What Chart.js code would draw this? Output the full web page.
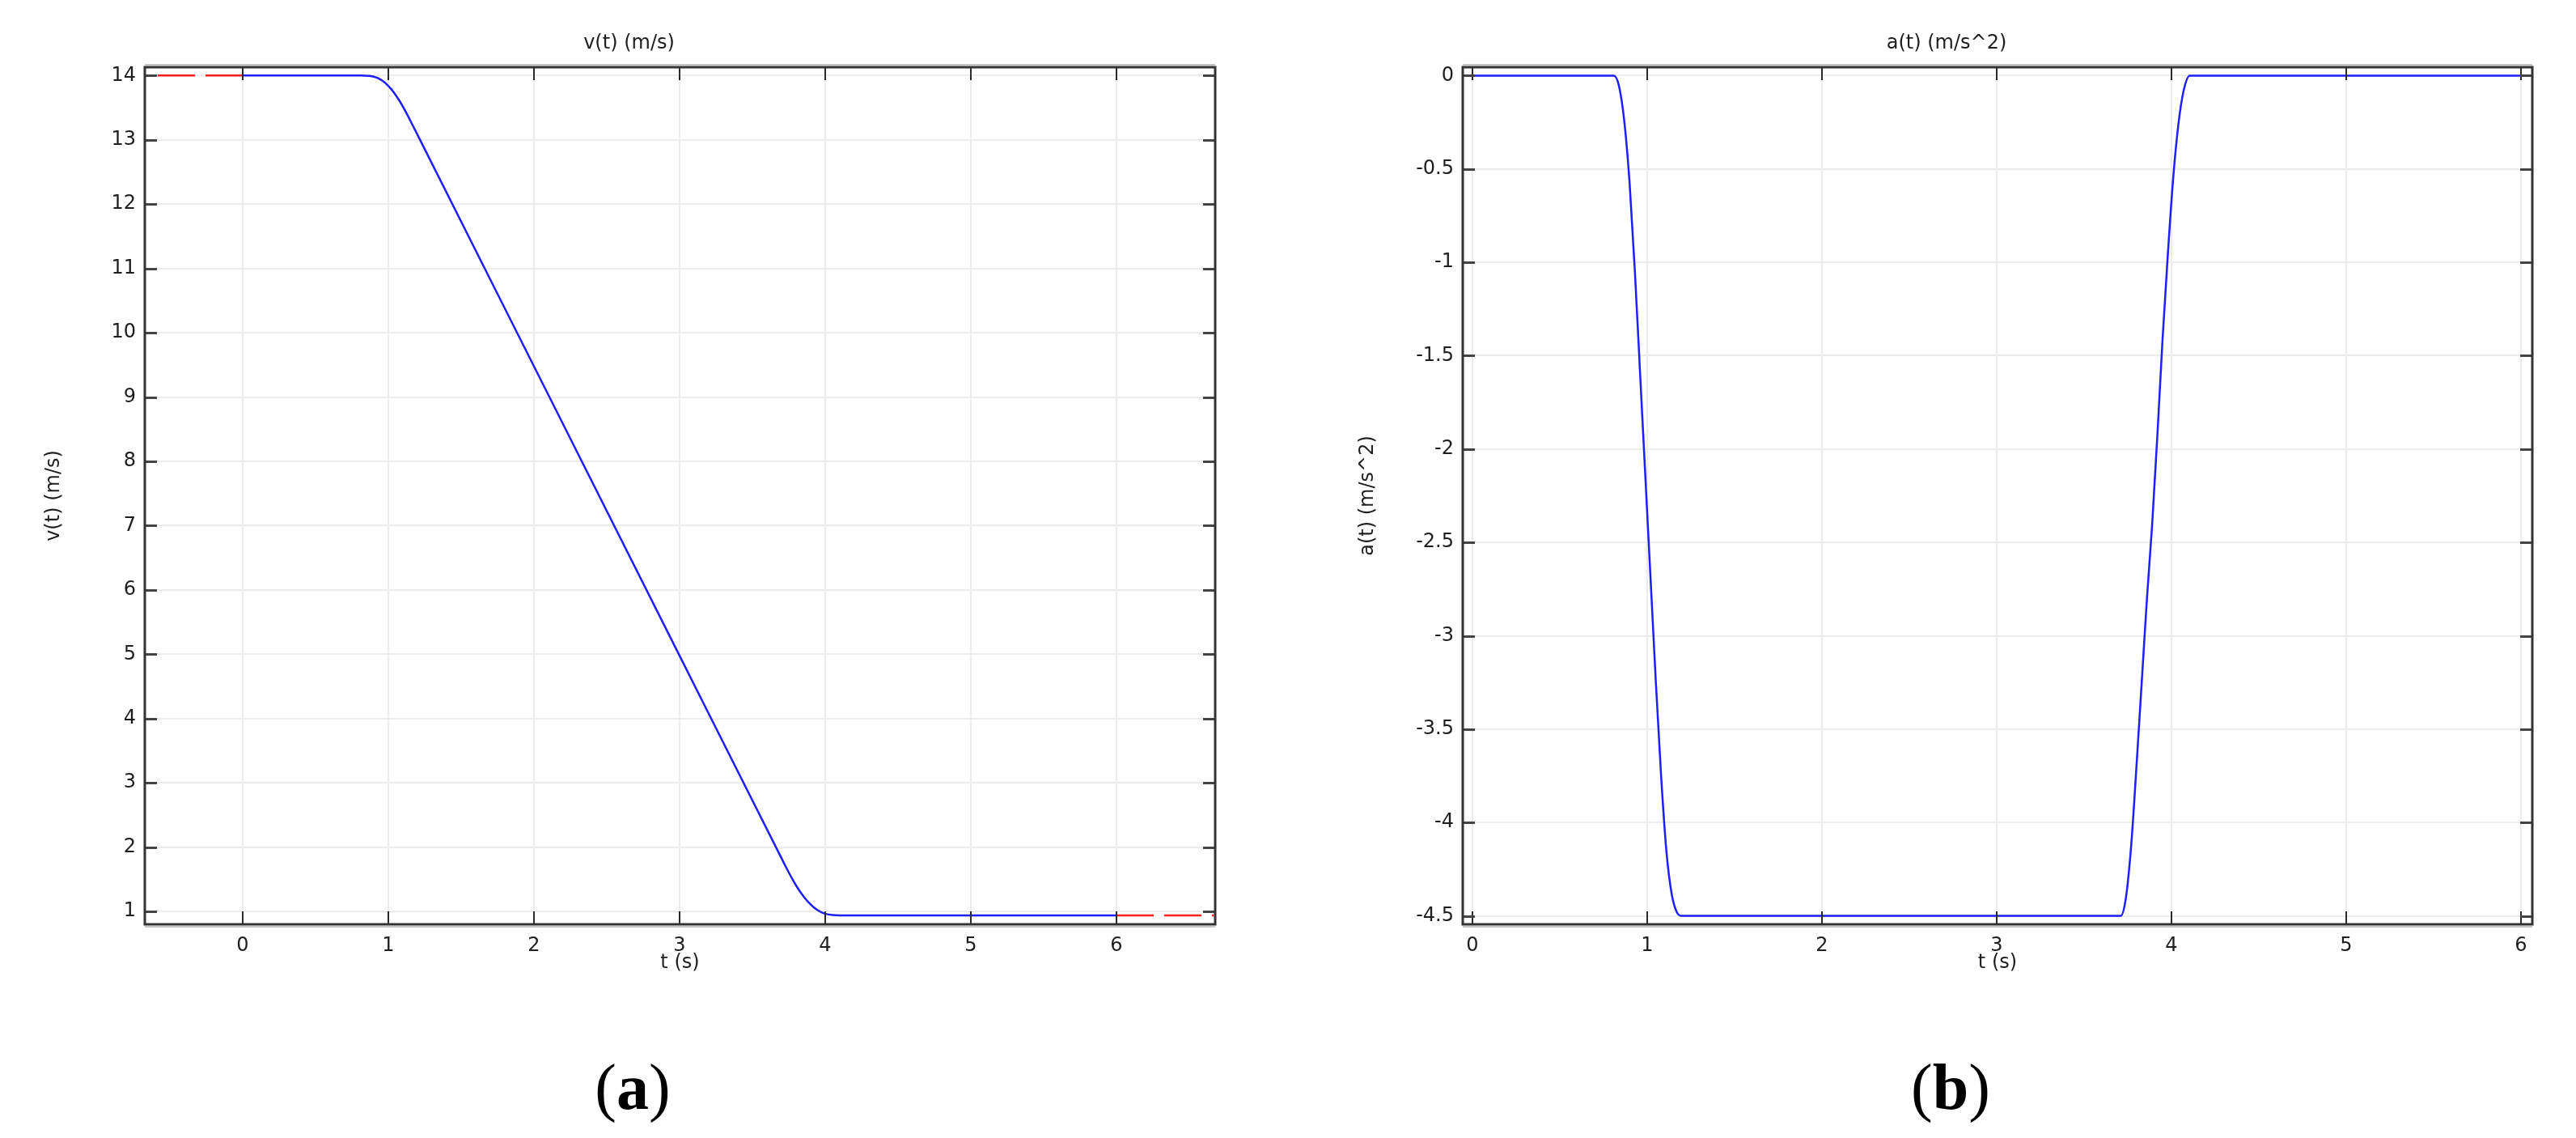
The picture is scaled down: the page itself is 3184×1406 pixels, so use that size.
<!DOCTYPE html>
<html>
<head>
<meta charset="utf-8">
<script src="https://cdn.jsdelivr.net/npm/chart.js@4.4.0/dist/chart.umd.min.js"></script>
<style>
  html, body { margin: 0; padding: 0; background: #fff; }
  body { width: 3184px; height: 1406px; position: relative; overflow: hidden; }
  .panel { position: absolute; top: 0; width: 1592px; height: 1250px; }
  .tag { position: absolute; top: 1303px; font: 80px 'Liberation Serif', 'Times New Roman', serif; line-height: 1; transform: translateX(-50%); color: #000; }
</style>
</head>
<body>
<div class="panel" style="left:0"><canvas id="velocity" width="1592" height="1250"></canvas></div>
<div class="panel" style="left:1592px"><canvas id="accel" width="1592" height="1250"></canvas></div>
<div class="tag" style="left:782px">(<b>a</b>)</div>
<div class="tag" style="left:2411px">(<b>b</b>)</div>
<script>
// velocity v(t), m/s
const velTime = [0, 0.81, 0.84, 0.87, 0.90, 0.93, 0.96, 0.99, 1.02, 1.05, 1.08, 1.11, 1.14, 1.17, 1.20, 2, 3,
  3.71, 3.74, 3.77, 3.80, 3.83, 3.86, 3.89, 3.92, 3.95, 3.98, 4.01, 4.04, 4.07, 4.105, 6];
const velValues = [14, 14, 13.999, 13.994, 13.982, 13.958, 13.918, 13.862, 13.789, 13.7, 13.595, 13.476, 13.348, 13.215, 13.08, 9.479, 4.978,
  1.783, 1.65, 1.522, 1.404, 1.3, 1.209, 1.131, 1.067, 1.017, 0.982, 0.959, 0.947, 0.942, 0.94, 0.94];

// dashed red extensions outside the simulated interval
const preTime = [0, -0.67];
const preVel = [14, 14];
const postTime = [6, 6.67];
const postVel = [0.94, 0.94];

// acceleration a(t), m/s^2
const accTime = [0, 0.81, 0.84, 0.87, 0.90, 0.93, 0.96, 0.99, 1.02, 1.05, 1.08, 1.11, 1.14, 1.17, 1.20,
  3.71, 3.74, 3.77, 3.80, 3.83, 3.86, 3.89, 3.92, 3.95, 3.98, 4.01, 4.04, 4.07, 4.105, 6];
const accValues = [0, 0, -0.06, -0.25, -0.58, -1.05, -1.6, -2.15, -2.7, -3.25, -3.75, -4.15, -4.38, -4.48, -4.5,
  -4.5, -4.4, -4.12, -3.7, -3.25, -2.8, -2.4, -1.92, -1.4, -0.95, -0.55, -0.26, -0.08, 0, 0];

// ticks
const timeTicks = [0, 1, 2, 3, 4, 5, 6];
const timeLabels = ['0', '1', '2', '3', '4', '5', '6'];
const velTicks = [1, 2, 3, 4, 5, 6, 7, 8, 9, 10, 11, 12, 13, 14];
const velLabels = ['1', '2', '3', '4', '5', '6', '7', '8', '9', '10', '11', '12', '13', '14'];
const accTicks = [0, -0.5, -1, -1.5, -2, -2.5, -3, -3.5, -4, -4.5];
const accLabels = ['0', '-0.5', '-1', '-1.5', '-2', '-2.5', '-3', '-3.5', '-4', '-4.5'];

const BLUE = 'rgb(30,30,255)';
const RED = 'rgb(255,30,30)';
const TEXT = '#1e1e1e';
const FONT = { family: "'DejaVu Sans', Verdana, sans-serif", size: 24 };

function toPoints(xs, ys) {
  return xs.map((x, i) => ({ x: x, y: ys[i] }));
}

// box frame, inside tick marks on all four sides, and the plot title
const framePlugin = {
  id: 'frame',
  afterDraw(chart, args, opts) {
    const { ctx, chartArea: a, scales } = chart;
    ctx.save();
    ctx.strokeStyle = '#2a2a2a';
    ctx.lineWidth = 2;
    scales.x.ticks.forEach(t => {
      const px = Math.round(scales.x.getPixelForValue(t.value));
      ctx.beginPath();
      ctx.moveTo(px, a.bottom); ctx.lineTo(px, a.bottom - 16);
      ctx.moveTo(px, a.top); ctx.lineTo(px, a.top + 16);
      ctx.stroke();
    });
    ctx.strokeStyle = '#444';
    ctx.lineWidth = 3;
    scales.y.ticks.forEach(t => {
      const py = Math.round(scales.y.getPixelForValue(t.value)) + 0.5;
      ctx.beginPath();
      ctx.moveTo(a.left, py); ctx.lineTo(a.left + 15, py);
      ctx.moveTo(a.right, py); ctx.lineTo(a.right - 15, py);
      ctx.stroke();
    });
    ctx.strokeStyle = '#c6c6c6';
    ctx.lineWidth = 2;
    ctx.beginPath();
    ctx.moveTo(a.left, a.top - 3); ctx.lineTo(a.right, a.top - 3);
    ctx.moveTo(a.left, a.bottom + 3); ctx.lineTo(a.right, a.bottom + 3);
    ctx.stroke();
    ctx.strokeStyle = '#333';
    ctx.lineWidth = 3;
    ctx.strokeRect(a.left, a.top, a.right - a.left, a.bottom - a.top);

    ctx.fillStyle = TEXT;
    ctx.font = FONT.size + 'px ' + FONT.family;
    ctx.textAlign = 'center';
    ctx.textBaseline = 'middle';
    ctx.fillText(opts.title, (a.left + a.right) / 2 - 63, 54);
    ctx.restore();
  }
};

function makeChart(id, cfg) {
  return new Chart(document.getElementById(id), {
    type: 'line',
    data: { datasets: cfg.datasets },
    options: {
      responsive: false,
      animation: false,
      layout: { padding: { top: 83, right: cfg.padRight, left: 0, bottom: 0 } },
      elements: { point: { radius: 0 } },
      plugins: {
        legend: { display: false },
        tooltip: { enabled: false },
        frame: { title: cfg.title }
      },
      scales: {
        x: {
          type: 'linear',
          min: cfg.xMin,
          max: cfg.xMax,
          afterBuildTicks: s => { s.ticks = timeTicks.map(v => ({ value: v })); },
          afterFit: s => { s.height = 108; },
          grid: { color: '#ececec', lineWidth: 2, drawTicks: false },
          border: { display: false },
          ticks: {
            padding: 12, color: TEXT, font: FONT, maxRotation: 0, autoSkip: false,
            callback: (v, i) => timeLabels[i]
          },
          title: { display: true, text: 't (s)', color: TEXT, font: FONT, padding: { top: 0, bottom: 46 } }
        },
        y: {
          type: 'linear',
          min: cfg.yMin,
          max: cfg.yMax,
          afterBuildTicks: s => { s.ticks = cfg.yTicks.map(v => ({ value: v })); },
          afterFit: s => { s.width = cfg.yWidth; },
          grid: { color: '#ececec', lineWidth: 2, drawTicks: false },
          border: { display: false },
          ticks: {
            padding: 11, color: TEXT, font: FONT, autoSkip: false,
            callback: (v, i) => cfg.yLabels[i]
          },
          title: { display: true, text: cfg.yTitle, color: TEXT, font: FONT, padding: { top: cfg.yTitlePad, bottom: 0 } }
        }
      }
    },
    plugins: [framePlugin]
  });
}

makeChart('velocity', {
  title: 'v(t) (m/s)',
  yTitle: 'v(t) (m/s)',
  xMin: -0.672, xMax: 6.678,
  yMin: 0.8, yMax: 14.13,
  yTicks: velTicks, yLabels: velLabels,
  yWidth: 179, yTitlePad: 52.6, padRight: 90,
  datasets: [
    { data: toPoints(velTime, velValues), borderColor: BLUE, borderWidth: 2.5, cubicInterpolationMode: 'monotone' },
    { data: toPoints(preTime, preVel), borderColor: RED, borderWidth: 2.5, borderDash: [46, 13] },
    { data: toPoints(postTime, postVel), borderColor: RED, borderWidth: 2.5, borderDash: [46, 13] }
  ]
});

makeChart('accel', {
  title: 'a(t) (m/s^2)',
  yTitle: 'a(t) (m/s^2)',
  xMin: -0.055, xMax: 6.065,
  yMin: -4.545, yMax: 0.045,
  yTicks: accTicks, yLabels: accLabels,
  yWidth: 216, yTitlePad: 84.6, padRight: 54,
  datasets: [
    { data: toPoints(accTime, accValues), borderColor: BLUE, borderWidth: 2.5, cubicInterpolationMode: 'monotone' }
  ]
});
</script>
</body>
</html>
